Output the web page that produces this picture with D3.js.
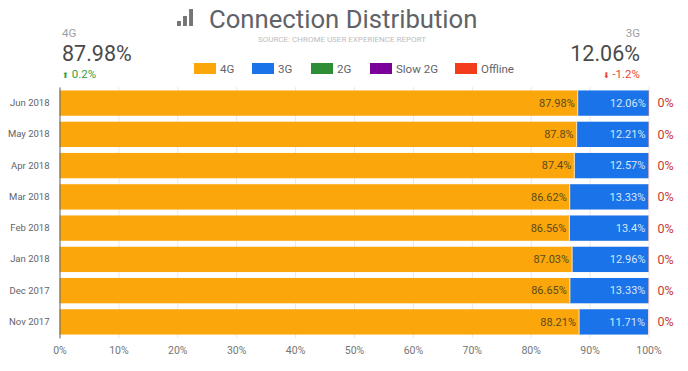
<!DOCTYPE html>
<html>
<head>
<meta charset="utf-8">
<script src="https://cdn.jsdelivr.net/npm/d3@7"></script>
<style>
  html, body { margin: 0; padding: 0; background: #fff; overflow: hidden; }
  text { font-family: Roboto, sans-serif; }
</style>
</head>
<body>
<div id="chart"></div>
<script>
const months = ['Jun 2018', 'May 2018', 'Apr 2018', 'Mar 2018', 'Feb 2018', 'Jan 2018', 'Dec 2017', 'Nov 2017'];
const values4g = [87.98, 87.8, 87.4, 86.62, 86.56, 87.03, 86.65, 88.21];
const values3g = [12.06, 12.21, 12.57, 13.33, 13.4, 12.96, 13.33, 11.71];
const values2g = [0, 0, 0, 0, 0, 0, 0, 0];
const valuesSlow2g = [0, 0, 0, 0, 0, 0, 0, 0];
const valuesOffline = [0.04, 0.04, 0.04, 0.04, 0.04, 0.04, 0.04, 0.02];
const seriesNames = ['4G', '3G', '2G', 'Slow 2G', 'Offline'];
const seriesColors = ['#fba60b', '#1a73e8', '#2d8e36', '#7b0099', '#f23c1a'];
const xTicks = [0, 10, 20, 30, 40, 50, 60, 70, 80, 90, 100];

const width = 688, height = 371;
const margin = { top: 87, right: 39.5, bottom: 33, left: 59.5 };

const svg = d3.select('#chart').append('svg')
  .attr('width', width)
  .attr('height', height);

const rows = months.map((month, i) => ({
  month,
  '4G': values4g[i],
  '3G': values3g[i],
  '2G': values2g[i],
  'Slow 2G': valuesSlow2g[i],
  'Offline': valuesOffline[i]
}));

const x = d3.scaleLinear().domain([0, 100]).range([margin.left, width - margin.right]);
const y = d3.scaleBand().domain(months).range([margin.top, height - margin.bottom]).paddingInner(0.19).paddingOuter(0.11);
const color = d3.scaleOrdinal().domain(seriesNames).range(seriesColors);
const stacked = d3.stack().keys(seriesNames)(rows);

// grid + axes
const xAxis = svg.append('g')
  .attr('transform', `translate(0,${height - margin.bottom})`)
  .call(d3.axisBottom(x).tickValues(xTicks).tickFormat(d => d + '%').tickSize(margin.top + margin.bottom - height));
xAxis.select('.domain').remove();
xAxis.selectAll('line').attr('stroke', '#e8e8e8').attr('y1', 0).attr('y2', margin.top + margin.bottom - height);
xAxis.selectAll('text').attr('y', 8.5).attr('fill', '#757575').style('font-size', '10.5px');

// bars
const layers = svg.append('g').selectAll('g').data(stacked).join('g')
  .attr('fill', d => color(d.key));
layers.selectAll('rect').data(d => d).join('rect')
  .attr('x', d => x(d[0]))
  .attr('y', d => y(d.data.month))
  .attr('width', d => x(d[1]) - x(d[0]))
  .attr('height', y.bandwidth());

// thin pale edge between the segments
svg.append('g').selectAll('line').data(rows).join('line')
  .attr('x1', d => x(d['4G']))
  .attr('x2', d => x(d['4G']))
  .attr('y1', d => y(d.month))
  .attr('y2', d => y(d.month) + y.bandwidth())
  .attr('stroke', '#fde3b0')
  .attr('stroke-width', 1);

const yAxis = svg.append('g')
  .attr('transform', `translate(${margin.left},0)`)
  .call(d3.axisLeft(y).tickSize(0).tickPadding(10));
yAxis.select('.domain').attr('stroke', '#666');
yAxis.selectAll('text').attr('fill', '#5f6368').style('font-size', '9.5px');

// value labels
const labels = svg.append('g').style('font-size', '11px');
labels.selectAll('.l4g').data(rows).join('text')
  .attr('class', 'l4g')
  .attr('x', d => x(d['4G']) - 3)
  .attr('y', d => y(d.month) + y.bandwidth() / 2)
  .attr('dy', '.35em')
  .attr('text-anchor', 'end')
  .attr('fill', '#5a4a1e')
  .text(d => d['4G'] + '%');
labels.selectAll('.l3g').data(rows).join('text')
  .attr('class', 'l3g')
  .attr('x', d => x(d['4G'] + d['3G']) - 3)
  .attr('y', d => y(d.month) + y.bandwidth() / 2)
  .attr('dy', '.35em')
  .attr('text-anchor', 'end')
  .attr('fill', '#d6e6fb')
  .text(d => d['3G'] + '%');
labels.selectAll('.loff').data(rows).join('text')
  .attr('x', d => x(100) + 9)
  .attr('y', d => y(d.month) + y.bandwidth() / 2)
  .attr('dy', '.35em')
  .attr('fill', '#c5393a')
  .style('font-size', '12.5px')
  .text(d => Math.round(d['Offline']) + '%');

// title block
const iconBars = [[0, 5], [1, 10], [2, 17]];
const iconScale = d3.scaleBand().domain([0, 1, 2]).range([177, 193]).paddingInner(0.35);
svg.append('g').selectAll('rect').data(iconBars).join('rect')
  .attr('x', d => iconScale(d[0]))
  .attr('y', d => 26 - d[1])
  .attr('width', iconScale.bandwidth())
  .attr('height', d => d[1])
  .attr('fill', '#757575');

svg.append('text').attr('x', 209).attr('y', 28)
  .attr('fill', '#5f6368').style('font-size', '25.7px')
  .text('Connection Distribution');
svg.append('text').attr('x', 342).attr('y', 41.5)
  .attr('text-anchor', 'middle')
  .attr('fill', '#bdbdbd').style('font-size', '8px')
  .text('SOURCE: CHROME USER EXPERIENCE REPORT');

// scorecards left and right
const cards = [
  { x: 62, anchor: 'start', name: '4G', value: '87.98%', arrow: '⬆', delta: ' 0.2%', deltaColor: '#34a03f' },
  { x: 640, anchor: 'end', name: '3G', value: '12.06%', arrow: '⬇', delta: ' -1.2%', deltaColor: '#ea4335' }
];
const card = svg.append('g').selectAll('g').data(cards).join('g')
  .attr('text-anchor', d => d.anchor);
card.append('text').attr('x', d => d.x).attr('y', 37)
  .attr('fill', '#9e9e9e').style('font-size', '11.5px').text(d => d.name);
card.append('text').attr('x', d => d.x).attr('y', 61)
  .attr('fill', '#4a4a4a').style('font-size', '21.5px').text(d => d.value);
const deltaText = card.append('text').attr('x', d => d.x).attr('y', 78)
  .attr('fill', d => d.deltaColor).style('font-size', '11.5px');
deltaText.append('tspan').style('font-size', '8px').text(d => d.arrow);
deltaText.append('tspan').text(d => d.delta);

// legend
const legendX = d3.scaleOrdinal().domain(seriesNames).range([194, 252, 311, 370, 455]);
const legend = svg.append('g').selectAll('g').data(seriesNames).join('g')
  .attr('transform', d => `translate(${legendX(d)},63)`);
legend.append('rect').attr('width', 22).attr('height', 11).attr('fill', d => color(d));
legend.append('text').attr('x', 26).attr('y', 10)
  .attr('fill', '#5f6368').style('font-size', '11.5px').text(d => d);
</script>
</body>
</html>
